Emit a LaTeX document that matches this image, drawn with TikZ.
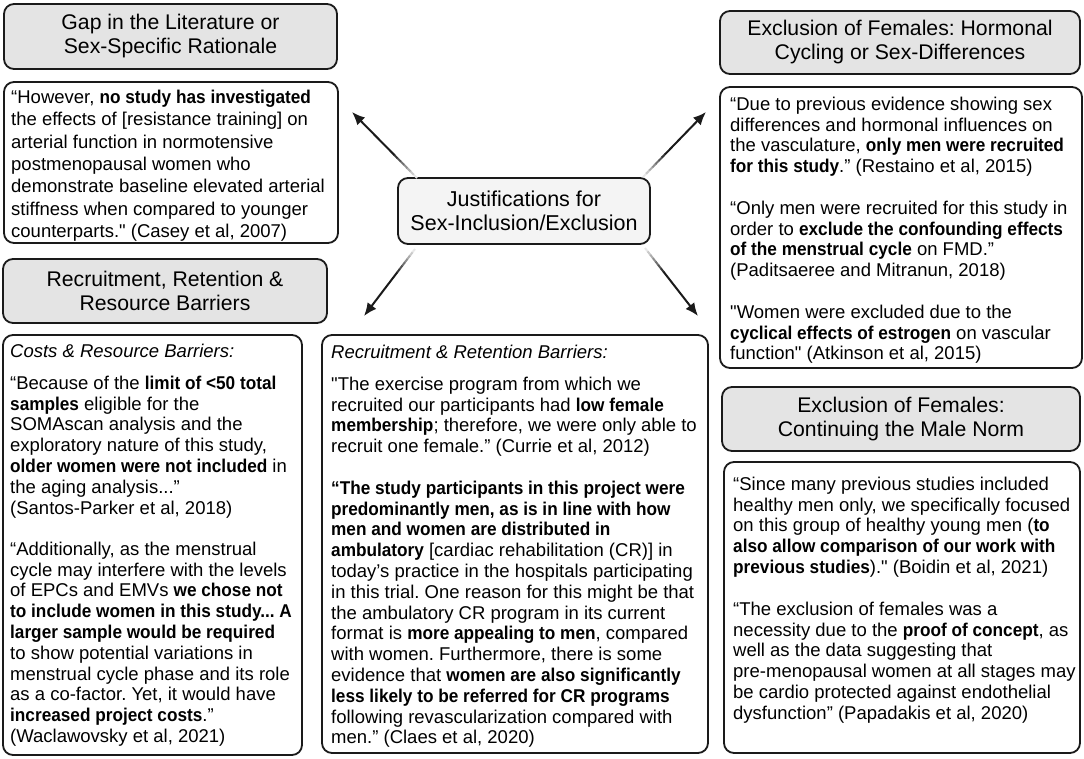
\documentclass[tikz,border=0pt]{standalone}
\usepackage{fontspec}
\setmainfont{Liberation Sans}[BoldFeatures={FakeStretch=0.93}]
\usetikzlibrary{calc,arrows.meta}
\definecolor{hdr}{HTML}{E4E4E4}
\definecolor{ctr}{HTML}{F4F4F4}
\definecolor{ink}{HTML}{1A1A1A}
\newcommand{\dq}{\textquotedbl}
\begin{document}
\frenchspacing
\begin{tikzpicture}[x=1pt,y=-1pt,
  box/.style={draw=ink,line width=1.8pt,rounded corners=10pt,inner sep=0pt},
  hdrbox/.style={box,fill=hdr,align=center,font=\fontsize{21.2}{24}\selectfont},
  ctrbox/.style={box,fill=ctr,align=center,font=\fontsize{21.5}{24}\selectfont},
  txt/.style={anchor=north west,inner sep=0pt,align=left,font=\fontsize{18.5}{20.8}\selectfont},
  bigtxt/.style={txt,font=\fontsize{18.5}{22.4}\selectfont},
  arr/.style={line width=2pt,draw=ink}]
\useasboundingbox (0,0) rectangle (1084,758);
\fill[white] (0,0) rectangle (1084,758);

% boxes
\node[hdrbox,minimum width=333,minimum height=65] (h1) at (170.5,36.5) {Gap in the Literature or\\Sex-Specific Rationale};
\node[box,minimum width=334,minimum height=161] (q1) at (171,162.5) {};
\node[hdrbox,minimum width=324,minimum height=64] (h2) at (165,291) {Recruitment, Retention \&\\Resource Barriers};
\node[box,minimum width=299,minimum height=420] (q2) at (152.5,545) {};
\node[box,minimum width=386,minimum height=418] (q3) at (515,544) {};
\node[ctrbox,minimum width=252,minimum height=66] (c) at (524,211) {Justifications for\\Sex-Inclusion/Exclusion};
\node[hdrbox,minimum width=360,minimum height=63] (h3) at (900,42.5) {Exclusion of Females: Hormonal\\Cycling or Sex-Differences};
\node[box,minimum width=362,minimum height=281] (q4) at (901,227.5) {};
\node[hdrbox,minimum width=358,minimum height=64] (h4) at (901,419) {Exclusion of Females:\\Continuing the Male Norm};
\node[box,minimum width=356,minimum height=291] (q5) at (902,607.5) {};

% texts
\node[bigtxt] (t1) at (11,{103-15.68}) {\strut“However, \textbf{no study has investigated}\\the effects of [resistance training] on\\arterial function in normotensive\\postmenopausal women who\\demonstrate baseline elevated arterial\\stiffness when compared to younger\\counterparts.\dq{} (Casey et al, 2007)};

\node[txt] (t2a) at (10,{357-14.56}) {\strut\textit{Costs \& Resource Barriers:}};
\node[txt] (t2b) at (10,{389-14.56}) {\strut“Because of the \textbf{limit of <50 total}\\\textbf{samples} eligible for the\\SOMAscan analysis and the\\exploratory nature of this study,\\\textbf{older women were not included} in\\the aging analysis...”\\(Santos-Parker et al, 2018)};
\node[txt] (t2c) at (10,{555-14.56}) {\strut“Additionally, as the menstrual\\cycle may interfere with the levels\\of EPCs and EMVs \textbf{we chose not}\\\textbf{to include women in this study... A}\\\textbf{larger sample would be required}\\to show potential variations in\\menstrual cycle phase and its role\\as a co-factor. Yet, it would have\\\textbf{increased project costs}.”\\(Waclawovsky et al, 2021)};

\node[txt] (t3a) at (331,{358-14.56}) {\strut\textit{Recruitment \& Retention Barriers:}};
\node[txt] (t3b) at (331,{390-14.56}) {\strut\dq{}The exercise program from which we\\recruited our participants had \textbf{low female}\\\textbf{membership}; therefore, we were only able to\\recruit one female.” (Currie et al, 2012)};
\node[txt] (t3c) at (331,{494-14.56}) {\strut\textbf{“The study participants in this project were}\\\textbf{predominantly men, as is in line with how}\\\textbf{men and women are distributed in}\\\textbf{ambulatory} [cardiac rehabilitation (CR)] in\\today’s practice in the hospitals participating\\in this trial. One reason for this might be that\\the ambulatory CR program in its current\\format is \textbf{more appealing to men}, compared\\with women. Furthermore, there is some\\evidence that \textbf{women are also significantly}\\\textbf{less likely to be referred for CR programs}\\following revascularization compared with\\men.” (Claes et al, 2020)};

\node[txt] (t4a) at (730,{110-14.56}) {\strut“Due to previous evidence showing sex\\differences and hormonal influences on\\the vasculature, \textbf{only men were recruited}\\\textbf{for this study}.” (Restaino et al, 2015)};
\node[txt] (t4b) at (730,{214-14.56}) {\strut“Only men were recruited for this study in\\order to \textbf{exclude the confounding effects}\\\textbf{of the menstrual cycle} on FMD.”\\(Paditsaeree and Mitranun, 2018)};
\node[txt] (t4c) at (730,{318-14.56}) {\strut\dq{}Women were excluded due to the\\\textbf{cyclical effects of estrogen} on vascular\\function\dq{} (Atkinson et al, 2015)};

\node[txt] (t5a) at (733,{490-14.56}) {\strut“Since many previous studies included\\healthy men only, we specifically focused\\on this group of healthy young men (\textbf{to}\\\textbf{also allow comparison of our work with}\\\textbf{previous studies}).\dq{} (Boidin et al, 2021)};
\node[txt] (t5b) at (733,{615-14.56}) {\strut“The exclusion of females was a\\necessity due to the \textbf{proof of concept}, as\\well as the data suggesting that\\pre-menopausal women at all stages may\\be cardio protected against endothelial\\dysfunction” (Papadakis et al, 2020)};

% arrows
\coordinate (s1) at (417,178); \coordinate (e1) at (352,112);
\coordinate (s2) at (643,177); \coordinate (e2) at (706,112);
\coordinate (s3) at (415,249); \coordinate (e3) at (364,316);
\coordinate (s4) at (645,248); \coordinate (e4) at (698,316);
\foreach \s/\e in {s1/e1,s2/e2,s3/e3,s4/e4}{
  \foreach \i in {0,...,6}{
    \pgfmathsetmacro\fa{\i*0.05}
    \pgfmathsetmacro\fb{\fa+0.056}
    \pgfmathsetmacro\cc{int(10+\i*13)}
    \draw[arr,draw=ink!\cc] ($(\s)!\fa!(\e)$) -- ($(\s)!\fb!(\e)$);
  }
  \draw[arr,-{Latex[length=13pt,width=11pt]}] ($(\s)!0.35!(\e)$) -- (\e);
}
\end{tikzpicture}
\end{document}
